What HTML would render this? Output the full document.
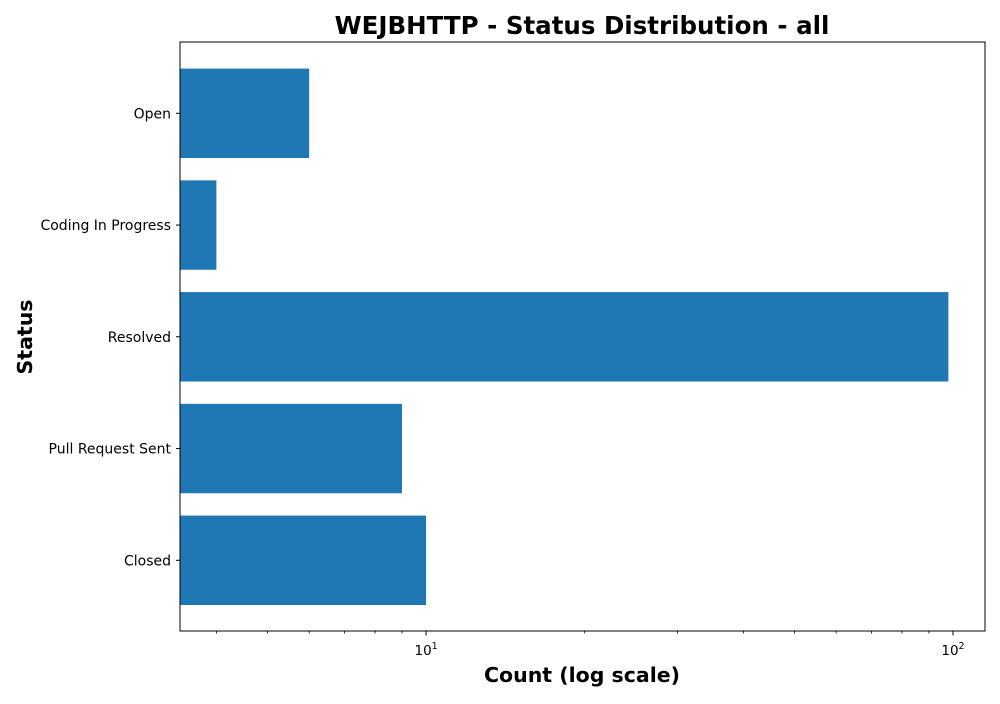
<!DOCTYPE html>
<html><head><meta charset="utf-8"><style>
body{margin:0;background:#fff;font-family:"DejaVu Sans","Liberation Sans",sans-serif}
</style></head><body>
<svg id="chart" width="1000" height="700" xmlns="http://www.w3.org/2000/svg" font-family="DejaVu Sans, Liberation Sans, sans-serif">
<rect width="1000" height="700" fill="#fff"/>
<text x="582" y="34" text-anchor="middle" font-size="24.5" font-weight="bold">WEJBHTTP - Status Distribution - all</text>
<g id="bars"></g>
<g id="axes"></g>
<text x="582" y="682" text-anchor="middle" font-size="20.5" font-weight="bold">Count (log scale)</text>
<text transform="translate(32,337) rotate(-90)" text-anchor="middle" font-size="20.5" font-weight="bold">Status</text>
</svg>
<script>
const categories = ["Open","Coding In Progress","Resolved","Pull Request Sent","Closed"];
const counts = [6,4,98,9,10];
const majorTicks = [10,100];
const majorLabels = ["10","10"];
const majorExps = ["1","2"];
const minorTicks = [4,5,6,7,8,9,20,30,40,50,60,70,80,90];

const L=180,R=985,T=42,B=631;
const logMin=0.533, logMax=2.0607;
function xs(v){return L+(Math.log10(v)-logMin)/(logMax-logMin)*(R-L);}
const step=111.75, y0=113.3;
function ys(i){return y0+i*step;}
const NS="http://www.w3.org/2000/svg";
function mk(tag,attrs,parent){const e=document.createElementNS(NS,tag);for(const k in attrs)e.setAttribute(k,attrs[k]);parent.appendChild(e);return e;}
const gb=document.getElementById('bars'), ga=document.getElementById('axes');
const bh=step*0.8;
categories.forEach((c,i)=>{
  const r=mk('rect',{x:L,y:ys(i)-bh/2,width:Math.max(0,xs(counts[i])-L),height:bh,fill:'#1f77b4'},gb);
  
  
  mk('line',{x1:L-4,x2:L,y1:ys(i),y2:ys(i),stroke:'#000','stroke-width':1},ga);
  const t=mk('text',{x:L-9,y:ys(i)+5,'text-anchor':'end','font-size':14},ga);
  t.textContent=c;
  
  
});
const frame=mk('rect',{x:L,y:T,width:R-L,height:B-T,fill:'none',stroke:'#000','stroke-width':1},ga);


minorTicks.forEach(v=>{const x=xs(v);if(x>=L&&x<=R)mk('line',{x1:x,x2:x,y1:B,y2:B+2.5,stroke:'#000','stroke-width':0.8},ga);});
majorTicks.forEach((v,i)=>{
  const x=xs(v);
  mk('line',{x1:x,x2:x,y1:B,y2:B+4.5,stroke:'#000','stroke-width':1},ga);
  const t=mk('text',{x:x-3,y:B+24,'text-anchor':'middle','font-size':13.5},ga);
  t.textContent=majorLabels[i];
  
  
  const s=mk('text',{x:x+5.5,y:B+18,'text-anchor':'start','font-size':9.5},ga);
  s.textContent=majorExps[i];
  
  
});
</script>
</body></html>
